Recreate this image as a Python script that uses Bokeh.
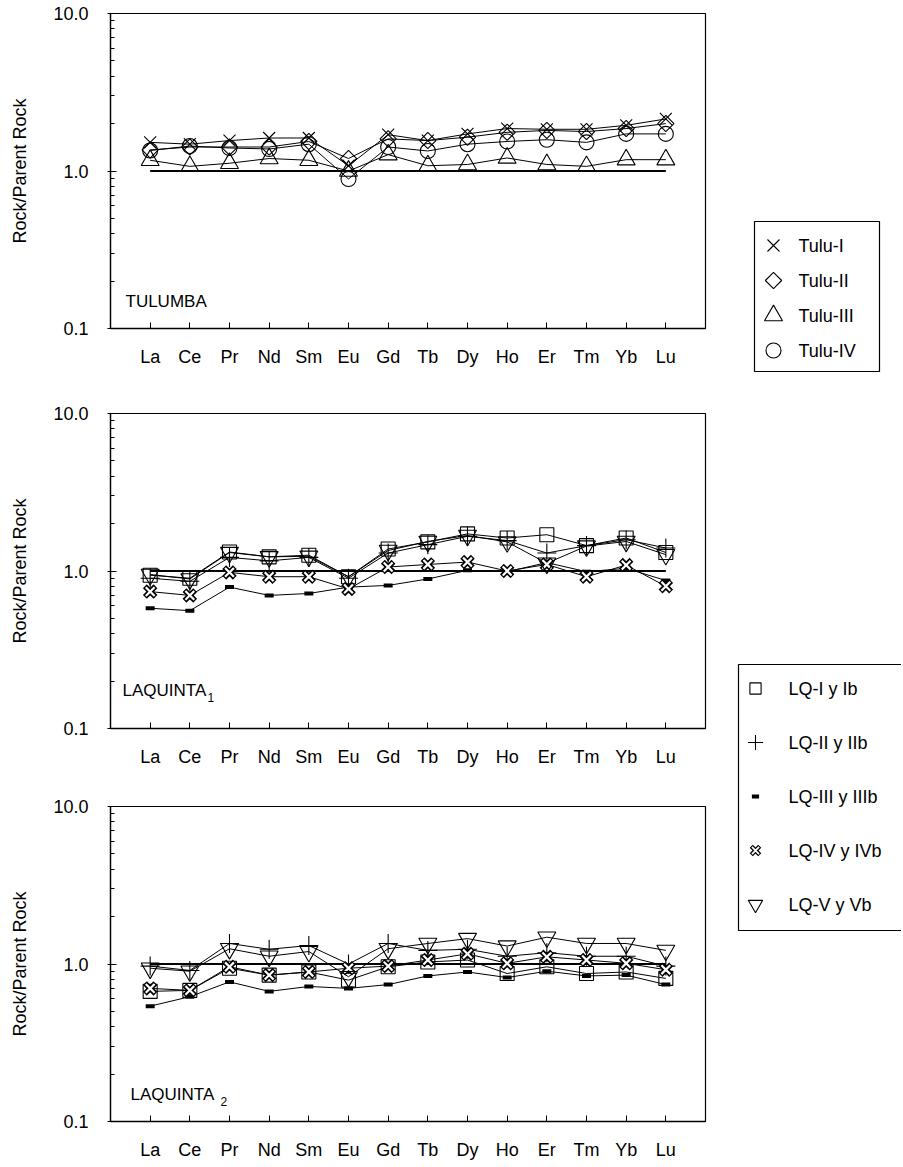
import math
from bokeh.plotting import figure
from bokeh.models import Range1d, FactorRange, FixedTicker, PrintfTickFormatter, Label
from bokeh.layouts import column, row
from bokeh.embed import file_html
from bokeh.resources import INLINE
from bokeh.core.properties import value

# ---------------- data ----------------
elements = ["La", "Ce", "Pr", "Nd", "Sm", "Eu", "Gd", "Tb", "Dy", "Ho", "Er", "Tm", "Yb", "Lu"]
reference_level = 1.0

tulu_labels = ["Tulu-I", "Tulu-II", "Tulu-III", "Tulu-IV"]
tulu_1 = [1.52, 1.48, 1.56, 1.62, 1.62, 1.08, 1.70, 1.56, 1.72, 1.86, 1.84, 1.84, 1.95, 2.14]
tulu_2 = [1.36, 1.42, 1.42, 1.42, 1.54, 1.20, 1.60, 1.56, 1.64, 1.76, 1.81, 1.78, 1.86, 2.00]
tulu_3 = [1.17, 1.07, 1.12, 1.20, 1.17, 1.00, 1.27, 1.08, 1.10, 1.21, 1.10, 1.07, 1.18, 1.18]
tulu_4 = [1.35, 1.44, 1.40, 1.38, 1.48, 0.89, 1.42, 1.34, 1.48, 1.54, 1.58, 1.52, 1.72, 1.72]

lq_labels = ["LQ-I y Ib", "LQ-II y IIb", "LQ-III y IIIb", "LQ-IV y IVb", "LQ-V y Vb"]
lq1_1 = [0.94, 0.90, 1.32, 1.23, 1.26, 0.92, 1.38, 1.53, 1.72, 1.62, 1.70, 1.45, 1.62, 1.31]
lq1_2 = [0.90, 0.86, 1.22, 1.16, 1.22, 0.90, 1.30, 1.47, 1.66, 1.56, 1.30, 1.45, 1.58, 1.40]
lq1_3 = [0.58, 0.56, 0.79, 0.70, 0.72, 0.79, 0.81, 0.89, 1.01, 0.99, 1.13, 0.99, 1.04, 0.87]
lq1_4 = [0.74, 0.70, 0.98, 0.92, 0.92, 0.77, 1.06, 1.10, 1.14, 1.00, 1.10, 0.92, 1.09, 0.80]
lq1_5 = [0.95, 0.89, 1.31, 1.23, 1.24, 0.92, 1.35, 1.54, 1.68, 1.53, 1.12, 1.44, 1.54, 1.27]

lq2_1 = [0.67, 0.68, 0.94, 0.85, 0.89, 0.79, 0.96, 1.03, 1.06, 0.87, 0.96, 0.87, 0.89, 0.81]
lq2_2 = [0.97, 0.91, 1.35, 1.24, 1.31, 1.00, 1.35, 1.22, 1.24, 1.12, 1.18, 1.12, 1.12, 0.97]
lq2_3 = [0.54, 0.62, 0.77, 0.67, 0.72, 0.70, 0.74, 0.84, 0.89, 0.82, 0.90, 0.84, 0.85, 0.74]
lq2_4 = [0.70, 0.68, 0.96, 0.85, 0.89, 0.94, 0.97, 1.06, 1.16, 1.01, 1.11, 1.06, 1.01, 0.92]
lq2_5 = [0.94, 0.90, 1.25, 1.12, 1.20, 0.83, 1.25, 1.35, 1.45, 1.30, 1.48, 1.35, 1.35, 1.22]

y_major = [0.1, 1.0, 10.0]
y_minor = [0.2, 0.3, 0.4, 0.5, 0.6, 0.7, 0.8, 0.9, 2, 3, 4, 5, 6, 7, 8, 9]

# ---------------- styles ----------------
FONT = "Liberation Sans"
FS = "18px"
BLACK = "#000000"

tulu_markers = [
    [dict(marker="x", size=17, line_width=1.1)],
    [dict(marker="square", size=11.5, angle=math.pi / 4, line_width=1.1)],
    [dict(marker="triangle", size=18, line_width=1.1)],
    [dict(marker="circle", size=15, line_width=1.1)],
]
lq_markers = [
    [dict(marker="square", size=14, line_width=1.1)],
    [dict(marker="cross", size=19, line_width=1.1)],
    [dict(marker="dash", size=9, line_width=4)],
    [dict(marker="x", size=15, line_width=5.5), dict(marker="x", size=12.5, line_width=2.2, line_color="white")],
    [dict(marker="inverted_triangle", size=18, line_width=1.1)],
]

PW = 710
RW = 191
FRAME_H = 315


def make_panel(height, btop, bbottom):
    p = figure(width=PW, height=height, y_axis_type="log",
               x_range=FactorRange(factors=elements, range_padding=1 / 14),
               y_range=Range1d(0.1, 10),
               output_backend="svg", toolbar_location=None,
               min_border_left=110, min_border_right=5,
               min_border_top=btop, min_border_bottom=bbottom,
               background_fill_color="white", border_fill_color="white")
    p.grid.visible = False
    p.outline_line_color = BLACK
    p.outline_line_width = 1.2
    # y axis
    ya = p.yaxis[0]
    ya.ticker = FixedTicker(ticks=y_major, minor_ticks=y_minor)
    ya.formatter = PrintfTickFormatter(format="%.1f")
    ya.major_tick_in = 6
    ya.major_tick_out = 3
    ya.minor_tick_in = 4
    ya.minor_tick_out = 0
    ya.major_label_standoff = 19
    ya.axis_label = "Rock/Parent Rock"
    ya.axis_label_standoff = 20
    ya.axis_label_text_font = FONT
    ya.axis_label_text_font_size = FS
    ya.axis_label_text_font_style = "normal"
    ya.axis_label_text_color = BLACK
    # x axis
    xa = p.xaxis[0]
    xa.major_tick_in = 6
    xa.major_tick_out = 0
    xa.major_label_standoff = 18
    for ax in (xa, ya):
        ax.axis_line_color = BLACK
        ax.axis_line_width = 1.3
        ax.major_tick_line_color = BLACK
        ax.minor_tick_line_color = BLACK
        ax.major_label_text_font = FONT
        ax.major_label_text_font_size = FS
        ax.major_label_text_color = BLACK
    # reference line at 1.0
    p.line(elements, [reference_level] * len(elements), line_color=BLACK, line_width=2)
    return p


def add_series(p, series, markers):
    for vals in series:
        p.line(elements, vals, line_color=BLACK, line_width=1)
    for vals, mk in zip(series, markers):
        for m in mk:
            kw = dict(fill_alpha=0, line_color=BLACK)
            kw.update(m)
            p.scatter(elements, vals, **kw)


def add_title(p, text, sub, x_off, y_off, sub_dx):
    p.add_layout(Label(x=x_off, y=y_off, x_units="screen", y_units="screen", text=text,
                       text_font=FONT, text_font_size="17px", text_baseline="middle",
                       text_color=BLACK))
    if sub:
        p.add_layout(Label(x=x_off + sub_dx, y=y_off - 7, x_units="screen", y_units="screen",
                           text=sub, text_font=FONT, text_font_size="12px",
                           text_baseline="middle", text_color=BLACK))


H1, H2, H3 = 388, 400, 377
p1 = make_panel(H1, 13, 60)
add_series(p1, [tulu_1, tulu_2, tulu_3, tulu_4], tulu_markers)
add_title(p1, "TULUMBA", None, 15, 27, 0)

p2 = make_panel(H2, 25, 60)
add_series(p2, [lq1_1, lq1_2, lq1_3, lq1_4, lq1_5], lq_markers)
add_title(p2, "LAQUINTA", "1", 12, 38, 85)

p3 = make_panel(H3, 18, H3 - 18 - FRAME_H)
add_series(p3, [lq2_1, lq2_2, lq2_3, lq2_4, lq2_5], lq_markers)
add_title(p3, "LAQUINTA", "2", 20, 27, 90)

# ---------------- legend column (page pixel coordinates) ----------------
TOP_Y = 0
TOTAL_H = H1 + H2 + H3
rf = figure(width=RW, height=TOTAL_H, x_range=Range1d(PW, PW + RW),
            y_range=Range1d(TOP_Y + TOTAL_H, TOP_Y),
            x_axis_location=None, y_axis_location=None,
            output_backend="svg", toolbar_location=None,
            min_border=0, border_fill_color="white", background_fill_color="white")
rf.grid.visible = False
rf.outline_line_color = None


def draw_legend(fig, labels, markers, left, right, top, bottom, first_y, step, mx, tx, scale):
    fig.quad(left=[left], right=[right], top=[top], bottom=[bottom],
             fill_color=None, line_color=BLACK, line_width=1.2)
    ys = [first_y + i * step for i in range(len(labels))]
    for y, mk in zip(ys, markers):
        for m in mk:
            kw = dict(fill_alpha=0, line_color=BLACK)
            kw.update(m)
            kw["size"] = m["size"] * scale
            kw["line_width"] = m["line_width"] * (scale if m["marker"] == "x" and m["line_width"] > 2 else 1)
            fig.scatter([mx], [y], **kw)
    fig.text([tx] * len(labels), ys, text=labels, text_font=value(FONT), text_font_size=FS,
             text_baseline="middle", text_align="left", text_color=BLACK)


draw_legend(rf, tulu_labels, tulu_markers, 754, 879, 221, 371, 245, 35, 773, 798, 1.0)
draw_legend(rf, lq_labels, lq_markers, 738, 920, 664, 930, 688, 54, 755, 788, 0.8)

layout = row(column(p1, p2, p3), rf)
open("out.html", "w").write(file_html(layout, INLINE))
